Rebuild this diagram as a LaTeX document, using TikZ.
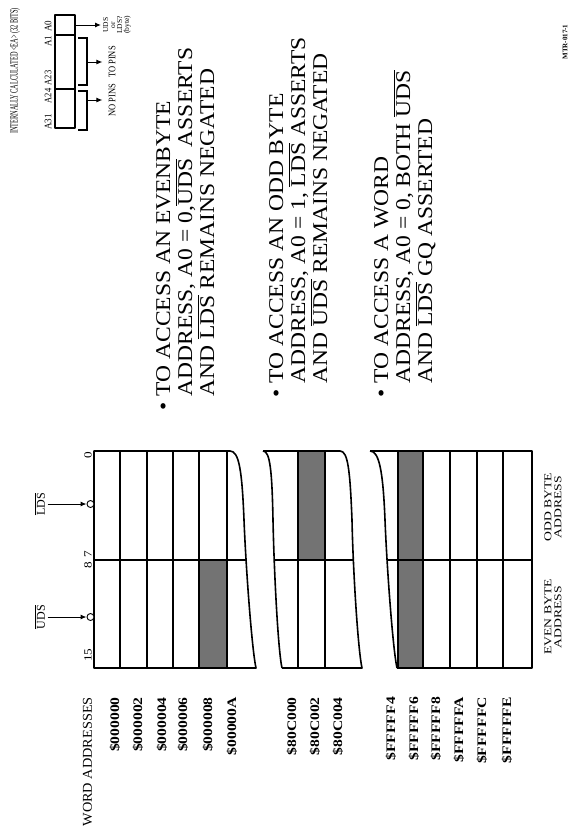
\documentclass[tikz,border=0pt]{standalone}
\usepackage{graphicx}
\usepackage{fontspec}
\setmainfont{Liberation Serif}
\usetikzlibrary{arrows.meta,positioning}

\newcommand{\nbar}[1]{\smash{$\overline{\mbox{#1}}$}}
\newcommand{\stretchx}[2]{\scalebox{#1}[1]{#2}}

\tikzset{
  vlabel/.style={rotate=90, inner sep=0pt},
  note/.style={font=\fontsize{21}{22}\selectfont},
  alabel/.style={font=\fontsize{10}{10}\selectfont},
  hexlabel/.style={font=\fontsize{13}{13}\selectfont\bfseries, anchor=east},
  tbl/.style={line width=1.6pt, line join=round},
  tblthin/.style={line width=1.1pt},
  shade/.style={fill=black!55},
  sig/.style={-{Latex[length=6pt,width=5pt]}, line width=1pt},
  bubble/.style={circle, draw, fill=white, inner sep=0pt, minimum size=7pt, line width=0.9pt},
}

\begin{document}
\begin{tikzpicture}[x=1pt,y=-1pt]
\useasboundingbox (0,0) rectangle (569,839);

% effective address
\node[vlabel, font=\fontsize{11}{11}\selectfont] (intcalc) at (15,71) {\stretchx{0.57}{INTERNALLY CALCULATED <EA> (32 BITS)}};
\draw[tbl] (55,15) rectangle (75,128);
\draw[tblthin] (55,35) -- (75,35);
\draw[tblthin] (55,89) -- (75,89);
\node[vlabel, alabel] (a31) at (48,122) {\stretchx{0.9}{A31}};
\node[vlabel, alabel] (a24) at (48,96) {\stretchx{0.85}{A24}};
\node[vlabel, alabel] (a23) at (48,78) {\stretchx{0.85}{A23}};
\node[vlabel, alabel] (a1) at (48,41) {\stretchx{0.9}{A1}};
\node[vlabel, alabel] (a0) at (48,26) {\stretchx{0.9}{A0}};

% pins
\draw[tblthin] (78,130) -- (87,130) -- (87,91) -- (78,91);
\draw[tblthin] (78,85) -- (87,85) -- (87,38) -- (78,38);
\coordinate (nob) at (87,100);
\coordinate (tob) at (87,62);
\coordinate (a0out) at (75,25);
\node[vlabel, alabel] (nopins) at (112,100) {\stretchx{0.85}{NO PINS}};
\node[vlabel, alabel] (topins) at (112,62) {\stretchx{0.85}{TO PINS}};
\node[vlabel, align=center, font=\fontsize{7.5}{7}\selectfont] (udsorlds) at (117,25) {UDS\\or\\LDS?\\(byte)};
\draw[sig, shorten >=6pt] (nob) -- (nopins.north);
\draw[sig, shorten >=6pt] (tob) -- (topins.north);
\draw[sig, shorten >=2pt] (a0out) -- (udsorlds.north);

% the three cases
\node[vlabel, note, anchor=base west] (evennote) at (170,411) {\stretchx{1.12}{\begin{tabular}[t]{@{}l@{}l@{}}
\makebox[13pt][l]{\textbullet} & TO ACCESS AN EVENBYTE\\
 & ADDRESS, A0 = 0,\nbar{UDS}\ \ ASSERTS\\
 & AND \nbar{LDS} REMAINS NEGATED\end{tabular}}};
\node[vlabel, note, anchor=base west] (oddnote) at (283,398) {\stretchx{1.12}{\begin{tabular}[t]{@{}l@{}l@{}}
\makebox[13pt][l]{\textbullet} & TO ACCESS AN ODD BYTE\\
 & ADDRESS, A0 = 1, \nbar{LDS} ASSERTS\\
 & AND \nbar{UDS} REMAINS NEGATED\end{tabular}}};
\node[vlabel, note, anchor=base west] (wordnote) at (388,398) {\stretchx{1.12}{\begin{tabular}[t]{@{}l@{}l@{}}
\makebox[13pt][l]{\textbullet} & TO ACCESS A WORD\\
 & ADDRESS, A0 = 0, BOTH \nbar{UDS}\\
 & AND \nbar{LDS} GQ ASSERTED\end{tabular}}};
\node[vlabel, font=\fontsize{7}{7}\selectfont\bfseries] (mtr) at (565,42) {MTR-017-1};

% memory, first part
\fill[shade] (199,560) rectangle (227,668);
\draw[tblthin] (120,451) -- (120,668);
\draw[tblthin] (147,451) -- (147,668);
\draw[tblthin] (173,451) -- (173,668);
\draw[tblthin] (199,451) -- (199,668);
\draw[tblthin] (227,451) -- (227,668);
\draw[tblthin] (94,560) -- (247,560);
\draw[tbl] (94,451) -- (230,451) .. controls (239,451) and (242,470) .. (244,520)
  .. controls (246,570) and (252,650) .. (256,668) -- (94,668) -- cycle;

% memory, second part
\fill[shade] (298,451) rectangle (325,560);
\draw[tblthin] (298,451) -- (298,668);
\draw[tblthin] (325,451) -- (325,668);
\draw[tblthin] (275,560) -- (354,560);
\draw[tbl] (263,451) .. controls (270,451) and (272,470) .. (273,520)
  .. controls (274,570) and (278,650) .. (282,668);
\draw[tbl] (263,451) -- (340,451) .. controls (348,451) and (350,470) .. (352,520)
  .. controls (353,570) and (358,650) .. (362,668) -- (282,668);

% memory, third part
\fill[shade] (398,451) rectangle (423,668);
\draw[tblthin] (398,451) -- (398,668);
\draw[tblthin] (423,451) -- (423,668);
\draw[tblthin] (450,451) -- (450,668);
\draw[tblthin] (477,451) -- (477,668);
\draw[tblthin] (503,451) -- (503,668);
\draw[tblthin] (388,560) -- (532,560);
\draw[tbl] (370,451) .. controls (379,451) and (383,470) .. (385,520)
  .. controls (387,570) and (393,650) .. (397,668);
\draw[tbl] (370,451) -- (532,451) -- (532,668) -- (397,668);

% bit numbers and strobes
\node[vlabel, font=\fontsize{11}{11}\selectfont] (b15) at (88,655) {\stretchx{1.2}{15}};
\node[vlabel, font=\fontsize{11}{11}\selectfont] (b87) at (88,560) {\stretchx{1.2}{8\,\,7}};
\node[vlabel, font=\fontsize{11}{11}\selectfont] (b0) at (88,455) {\stretchx{1.2}{0}};
\node[bubble] (udsb) at (90.5,617) {};
\node[bubble] (ldsb) at (90.5,504) {};
\node[vlabel, font=\fontsize{12}{12}\selectfont] (udsl) at (45,617) {\nbar{UDS}};
\node[vlabel, font=\fontsize{12}{12}\selectfont] (ldsl) at (45,504) {\nbar{LDS}};
\draw[sig, shorten <=2pt] (udsl.south) -- (udsb);
\draw[sig, shorten <=2pt] (ldsl.south) -- (ldsb);

% addresses
\node[vlabel, anchor=east, font=\fontsize{13.5}{13.5}\selectfont] (wordadr) at (87.5,697) {\stretchx{1.06}{WORD ADDRESSES}};
\node[vlabel, hexlabel] (adr0) at (115,697) {\stretchx{1.2}{\$000000}};
\node[vlabel, hexlabel] (adr2) at (138,697) {\stretchx{1.2}{\$000002}};
\node[vlabel, hexlabel] (adr4) at (162,697) {\stretchx{1.2}{\$000004}};
\node[vlabel, hexlabel] (adr6) at (183,697) {\stretchx{1.2}{\$000006}};
\node[vlabel, hexlabel] (adr8) at (208,697) {\stretchx{1.2}{\$000008}};
\node[vlabel, hexlabel] (adrA) at (232,697) {\stretchx{1.2}{\$00000A}};
\node[vlabel, hexlabel] (adrm0) at (292,697) {\stretchx{1.2}{\$80C000}};
\node[vlabel, hexlabel] (adrm2) at (315,697) {\stretchx{1.2}{\$80C002}};
\node[vlabel, hexlabel] (adrm4) at (338,697) {\stretchx{1.2}{\$80C004}};
\node[vlabel, hexlabel] (adrf4) at (391,697) {\stretchx{1.2}{\$FFFFF4}};
\node[vlabel, hexlabel] (adrf6) at (414,697) {\stretchx{1.2}{\$FFFFF6}};
\node[vlabel, hexlabel] (adrf8) at (436,697) {\stretchx{1.2}{\$FFFFF8}};
\node[vlabel, hexlabel] (adrfa) at (459,697) {\stretchx{1.2}{\$FFFFFA}};
\node[vlabel, hexlabel] (adrfc) at (482,697) {\stretchx{1.2}{\$FFFFFC}};
\node[vlabel, hexlabel] (adrfe) at (507,697) {\stretchx{1.2}{\$FFFFFE}};
\node[vlabel, align=center, font=\fontsize{10.5}{10}\selectfont] (evenbyte) at (553,617) {\stretchx{1.3}{EVEN BYTE}\\\stretchx{1.3}{ADDRESS}};
\node[vlabel, align=center, font=\fontsize{10.5}{10}\selectfont] (oddbyte) at (553,507) {\stretchx{1.3}{ODD BYTE}\\\stretchx{1.3}{ADDRESS}};
\end{tikzpicture}
\end{document}
